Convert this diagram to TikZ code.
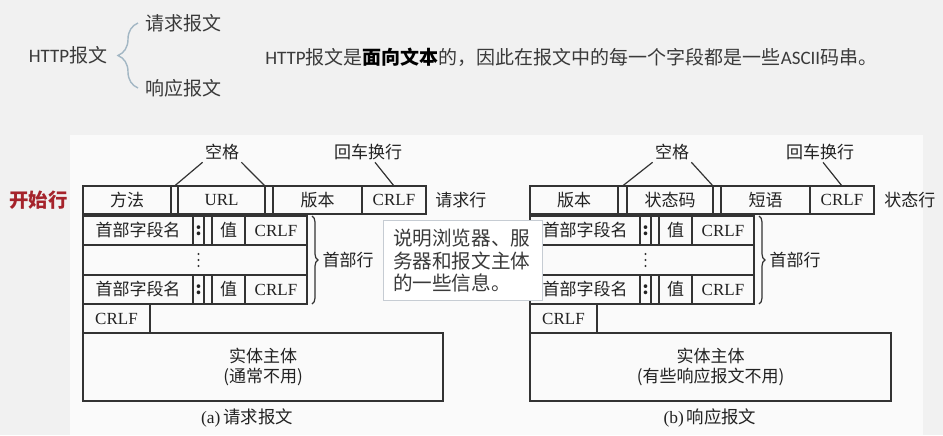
\documentclass[tikz,border=0pt]{standalone}
\usepackage{fontspec}
\setmainfont{Noto Sans CJK SC}
\newfontfamily\tms{Liberation Serif}
\newfontfamily\lat{Carlito}
\usetikzlibrary{positioning,decorations.pathreplacing}
\definecolor{linecol}{HTML}{333333}
\definecolor{txtcol}{HTML}{222222}
\definecolor{topcol}{HTML}{3A3A3A}
\definecolor{bgcol}{HTML}{F1F1F1}
\definecolor{panelcol}{HTML}{FAFAFA}
\definecolor{startred}{HTML}{A5232B}
\definecolor{bracecol}{HTML}{A3B7C4}
\definecolor{notecol}{HTML}{C6CCD3}
\begin{document}
\begin{tikzpicture}[x=0.5pt,y=-0.5pt,
    cell/.style={draw=linecol, line width=0.8pt, inner sep=0pt, outer sep=0pt,
      font=\fontsize{8.5}{10}\selectfont, text=txtcol},
    box/.style 2 args={minimum width=(#1)*0.5pt, minimum height=(#2)*0.5pt},
    lbl/.style={font=\fontsize{8.5}{10}\selectfont, text=txtcol, inner sep=1pt},
    ptr/.style={draw=linecol, line width=0.6pt},
    rowbrace/.style={draw=linecol, line width=0.6pt, decorate,
      decoration={brace, amplitude=3pt}},
    toptext/.style={font=\fontsize{9.5}{11}\selectfont, text=topcol, inner sep=0pt}]
  % background and white panel
  \fill[bgcol] (0,0) rectangle (943,435);
  \fill[panelcol] (70,135) rectangle (923,435);

  % top: message kinds
  \node[toptext] (msg) at (68,55) {{\lat HTTP}报文};
  \node[toptext, anchor=west] (req) at (145,23) {请求报文};
  \node[toptext, anchor=west] (resp) at (145,88) {响应报文};
  \draw[bracecol, line width=0.7pt, decorate, decoration={brace, amplitude=10pt}]
    ([xshift=-3.5pt]resp.west) -- ([xshift=-3.5pt]req.west);
  \node[toptext, anchor=west] (fact) at (265,57)
    {{\lat HTTP}报文是{\bfseries\color{black}面向文本}的，因此在报文中的每一个字段都是一些{\lat ASCII}码串。};

  % (a) request line
  \foreach \n/\a/\b/\t in {1/83/171/方法, 2/171/178/{}, 3/178/265/{\tms URL},
                           4/265/273/{}, 5/273/362/版本, 6/362/426/{\tms CRLF}}
    \node[cell, box={\b-\a}{28}] (a-r\n) at ({(\a+\b)/2},200) {\t};
  % (b) status line
  \foreach \n/\a/\b/\t in {1/530/618/版本, 2/618/627/{}, 3/627/713/状态码,
                           4/713/721/{}, 5/721/810/短语, 6/810/874/{\tms CRLF}}
    \node[cell, box={\b-\a}{28}] (b-r\n) at ({(\a+\b)/2},200) {\t};

  % header lines, CRLF and entity body
  \foreach \s/\p in {0/a, 447/b} {
    \foreach \r/\y in {1/230.5, 3/289.5} {
      \node[cell, box={110}{29}] (\p-h\r-n) at (\s+138,\y) {首部字段名};
      \node[cell, box={11}{29}, right=0pt of \p-h\r-n] (\p-h\r-c) {\textbf{:}};
      \node[cell, box={8}{29}, right=0pt of \p-h\r-c] (\p-h\r-s) {};
      \node[cell, box={33}{29}, right=0pt of \p-h\r-s] (\p-h\r-v) {值};
      \node[cell, box={62}{29}, right=0pt of \p-h\r-v] (\p-h\r-e) {\tms CRLF};
    }
    \node[cell, box={224}{30}] (\p-dots) at (\s+195,260) {};
    \foreach \d in {-6,0,6}
      \fill[linecol] ([yshift=\d*0.5pt]\p-h1-c |- \p-dots) circle (0.55pt);
    \node[cell, box={67}{29}] (\p-crlf) at (\s+116.5,318.5) {\tms CRLF};
    \draw[rowbrace] ([xshift=2.5pt]\p-h1-e.north east) -- ([xshift=2.5pt]\p-h3-e.south east)
      node[lbl, midway, right=4pt] (\p-hdr) {首部行};
  }
  \node[cell, box={360}{68}, align=center] (a-body) at (263,367) {实体主体\\(通常不用)};
  \node[cell, box={361}{68}, align=center] (b-body) at (710.5,367) {实体主体\\(有些响应报文不用)};

  % labels above the first line
  \node[lbl] (a-sp) at (222,152) {空格};
  \node[lbl] (a-cr) at (368,152) {回车换行};
  \draw[ptr] (a-sp.south west) -- (a-r2.north);
  \draw[ptr] (a-sp.south east) -- (a-r4.north west);
  \draw[ptr] ([xshift=3.5pt]a-cr.south) -- (a-r6.north);
  \node[lbl] (b-sp) at (672,152) {空格};
  \node[lbl] (b-cr) at (820,152) {回车换行};
  \draw[ptr] (b-sp.south west) -- (b-r2.north);
  \draw[ptr] (b-sp.south east) -- (b-r4.north west);
  \draw[ptr] ([xshift=1.5pt]b-cr.south) -- (b-r6.north);

  \node[lbl, anchor=west] (a-line) at ([xshift=3.5pt]a-r6.east) {请求行};
  \node[lbl, anchor=west] (b-line) at ([xshift=4pt]b-r6.east) {状态行};
  \node[anchor=east, inner sep=0pt, text=startred, font=\fontsize{9.7}{11}\selectfont\bfseries]
    (start) at ([xshift=-7.5pt]a-r1.west) {开始行};

  % captions
  \node[lbl, font=\fontsize{8.7}{10}\selectfont] (a-cap) at (247,418) {{\tms(a)}\,请求报文};
  \node[lbl, font=\fontsize{8.7}{10}\selectfont] (b-cap) at (710,418) {{\tms(b)}\,响应报文};

  % callout
  \node[draw=notecol, fill=white, line width=0.6pt, anchor=north west,
    minimum width=79.5pt, minimum height=40pt, inner xsep=4.5pt, inner ysep=4pt,
    text width=70pt, align=left, text=topcol, font=\fontsize{9.8}{11.3}\selectfont]
    (info) at (383,220) {说明浏览器、服\\务器和报文主体\\的一些信息。};
\end{tikzpicture}
\end{document}
